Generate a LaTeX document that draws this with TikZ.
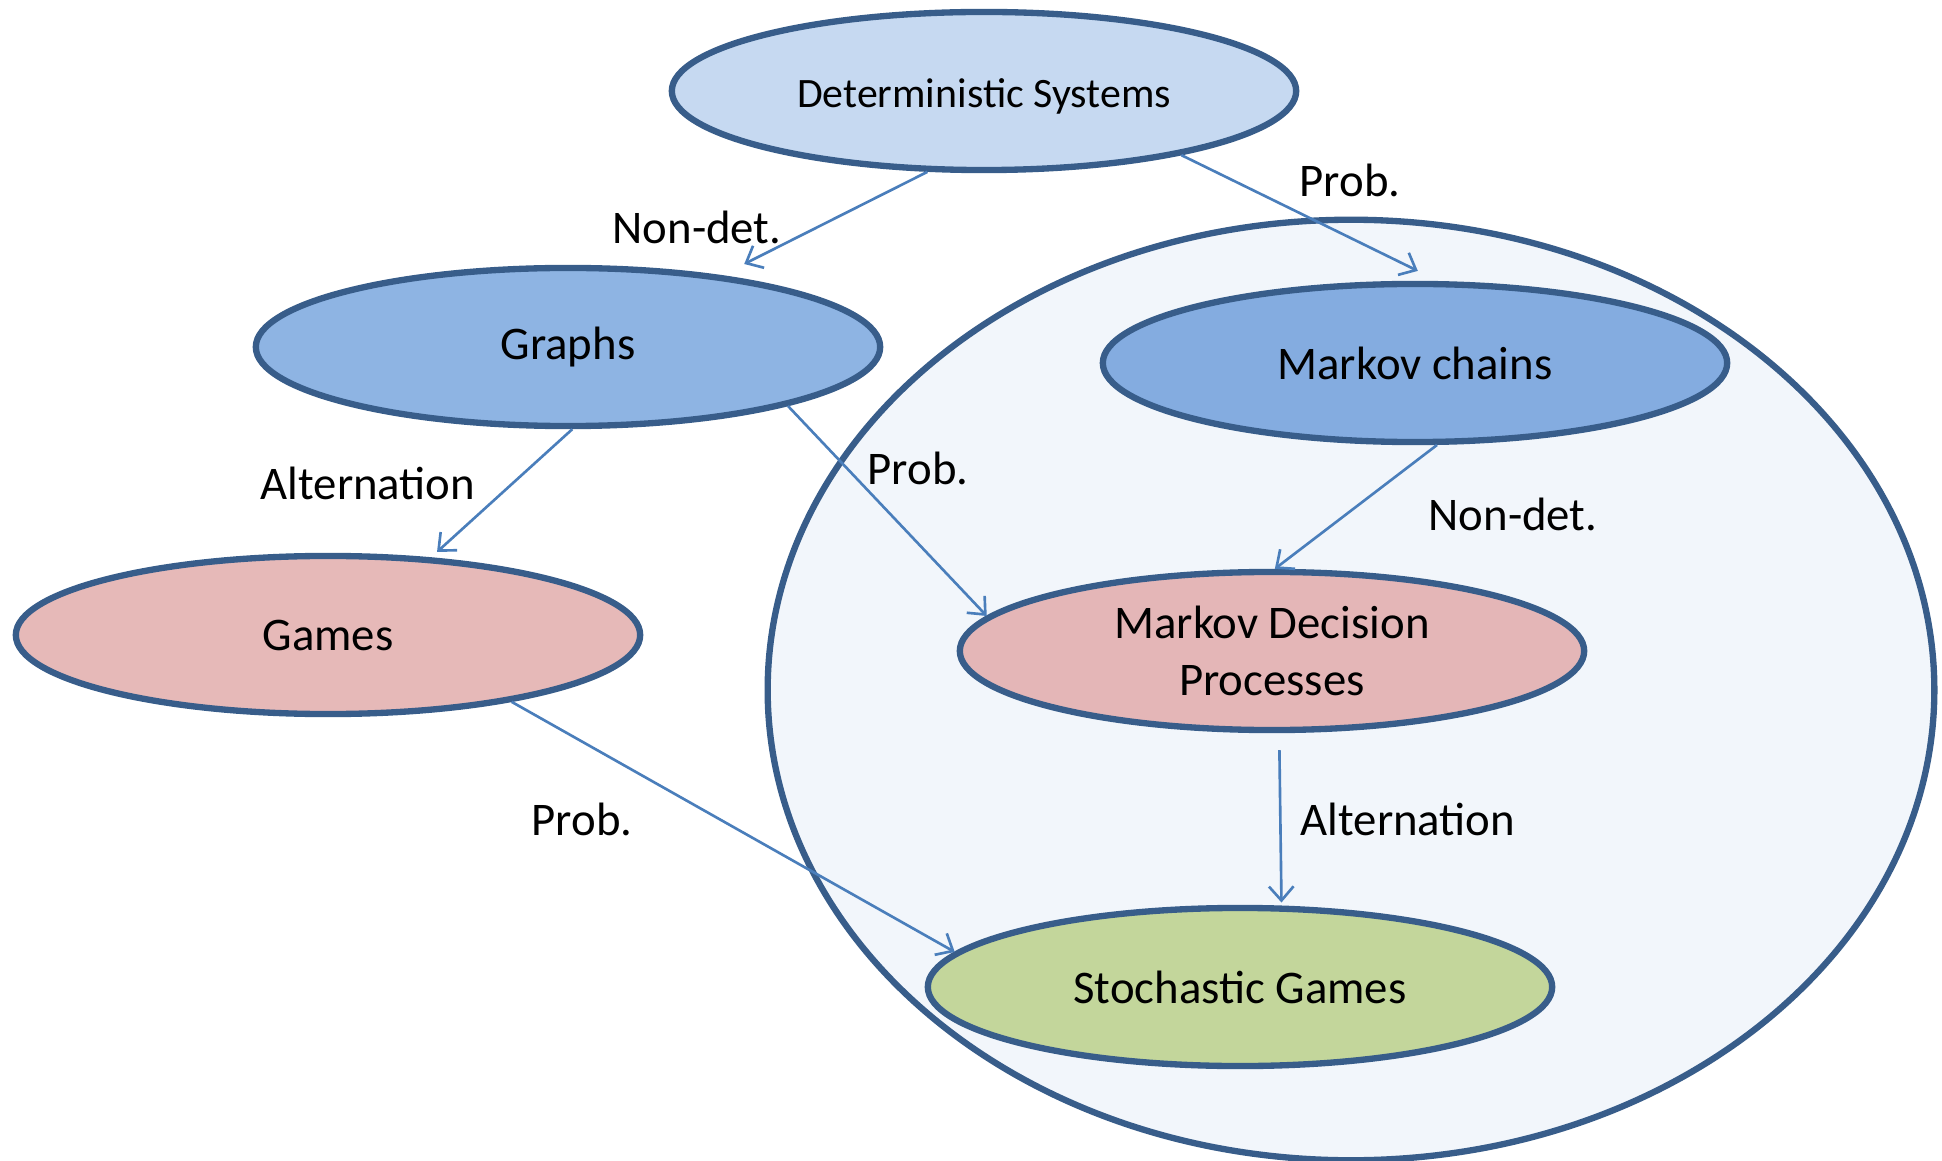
\documentclass[tikz,border=0pt]{standalone}
\usepackage{fontspec}
\setmainfont{Carlito}
\usepackage{tikz}
\usetikzlibrary{shapes.geometric}
\usetikzlibrary{arrows.meta}

\definecolor{rim}{HTML}{385D8A}
\definecolor{linkblue}{HTML}{4A7EBB}
\definecolor{detfill}{HTML}{C6D9F1}
\definecolor{graphfill}{HTML}{8EB4E3}
\definecolor{chainfill}{HTML}{84ACE0}
\definecolor{gamefill}{HTML}{E6B9B8}
\definecolor{mdpfill}{HTML}{E4B6B7}
\definecolor{stochfill}{HTML}{C3D69B}
\definecolor{probfill}{HTML}{F2F6FB}

\begin{document}
\begin{tikzpicture}[x=0.01cm,y=-0.01cm,
        sys/.style={ellipse,draw=rim,line width=1.8pt,inner sep=0pt,
            minimum width=6.24cm,minimum height=1.58cm,align=center,
            font=\fontsize{13.3}{16.2}\selectfont},
        lbl/.style={font=\fontsize{13.3}{16}\selectfont},
        link/.style={draw=linkblue,line width=0.75pt,
            -{Straight Barb[length=4pt,width=7pt]}}]
        \useasboundingbox (0,0) rectangle (1942,1161);

        % Probabilistic region
        \draw [rim,fill=probfill,line width=1.8pt] (1351,690)
            ellipse [x radius=5.83cm,y radius=4.7cm];

        % Systems
        \node [sys,fill=detfill,font=\fontsize{11.9}{14}\selectfont,
            text height=0.39cm] (ds) at (984,91) {Deterministic Systems};
        \node [sys,fill=graphfill] (graphs) at (568,347) {Graphs};
        \node [sys,fill=chainfill] (mc) at (1415,363) {Markov chains};
        \node [sys,fill=gamefill] (games) at (328,635) {Games};
        \node [sys,fill=mdpfill] (mdp) at (1272,651)
            {Markov Decision\\Processes};
        \node [sys,fill=stochfill] (sg) at (1240,987) {Stochastic Games};

        % Links
        \draw [link,shorten >=0.25cm] (ds.235) -- (graphs.25);
        \draw [link,shorten >=0.23cm] (ds.342) -- (mc.74);
        \draw [link,shorten >=0.08cm] (graphs.273) -- (games.37.5);
        \draw [link] (graphs.345) -- (mdp.173);
        \draw [link] (mc.285) -- (mdp.88);
        \draw [link,shorten <=0.17cm,shorten >=0.03cm] (mdp.275) -- (sg.63.5);
        \draw [link] (games.340) -- (sg.173);

        % Labels
        \node [lbl] (nd1) at (697,227) {Non-det.};
        \node [lbl] (pr1) at (1350,180) {Prob.};
        \node [lbl] (al1) at (368,483) {Alternation};
        \node [lbl] (pr2) at (918,468) {Prob.};
        \node [lbl] (nd2) at (1513,514) {Non-det.};
        \node [lbl] (pr3) at (582,819) {Prob.};
        \node [lbl] (al2) at (1408,819) {Alternation};
\end{tikzpicture}
\end{document}
